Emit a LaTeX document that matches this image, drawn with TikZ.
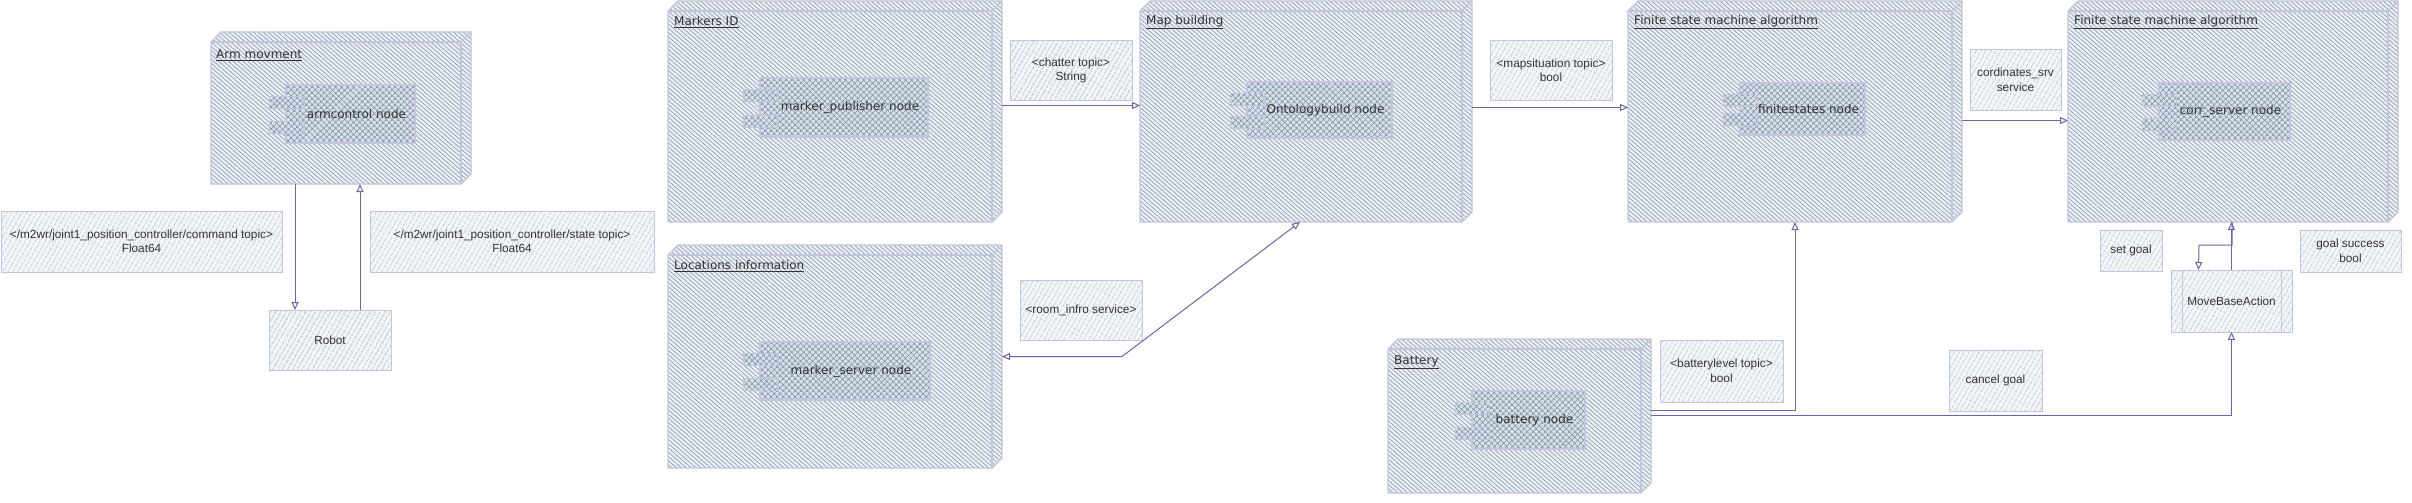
\documentclass[tikz,border=0pt]{standalone}
\usepackage{fontspec}
\setmainfont{DejaVu Sans}
\newfontfamily\lblfont{Liberation Sans}
\usetikzlibrary{patterns.meta,calc,arrows.meta}
\definecolor{boxbg}{HTML}{EDF0F4}
\definecolor{hatchc}{HTML}{95A6B9}
\definecolor{bordc}{HTML}{C3C5DC}
\definecolor{compbg}{HTML}{D6DEE6}
\definecolor{comph}{HTML}{8497AC}
\definecolor{lblbg}{HTML}{F3F5F8}
\definecolor{lblh}{HTML}{9DAABA}
\definecolor{arrc}{HTML}{6A65A8}
\definecolor{txtc}{HTML}{333333}
\tikzset{
  boxanchor/.style={rectangle, inner sep=0pt, outer sep=0pt, draw=none},
  bigbox/.style={draw=bordc, line width=1.3pt, line join=round, preaction={fill=boxbg},
    pattern={Lines[angle=-41,distance=3.2pt,line width=0.8pt]}, pattern color=hatchc},
  boxline/.style={draw=bordc, line width=1.3pt},
  comp/.style={rectangle, inner sep=0pt, outer sep=0pt, draw=bordc, line width=1.1pt,
    preaction={fill=compbg}, pattern={Hatch[angle=45,distance=4pt,line width=0.7pt]},
    pattern color=comph, text=txtc, font=\fontsize{12}{14}\selectfont},
  tabst/.style={draw=bordc, line width=1pt, preaction={fill=compbg},
    pattern={Hatch[angle=45,distance=4pt,line width=0.7pt]}, pattern color=comph},
  lbl/.style={rectangle, inner sep=0pt, outer sep=0pt, draw=bordc, line width=1pt,
    preaction={fill=lblbg}, pattern={Lines[angle=60,distance=4pt,line width=0.8pt]},
    pattern color=lblh, text=txtc, align=center, font=\lblfont\fontsize{11.8}{14.5}\selectfont},
  title/.style={anchor=west, inner sep=0pt, text=txtc, font=\fontsize{12}{14}\selectfont},
  arr/.style={draw=arrc, line width=1pt, -{Triangle[open,length=8pt,width=7pt]}},
  arrb/.style={draw=arrc, line width=1pt, {Triangle[open,length=8pt,width=7pt]}-{Triangle[open,length=8pt,width=7pt]}}
}
\newcommand\BoxShape[1]{%
  \path[bigbox] ($(#1.north west)+(0,10)$) -- ($(#1.north west)+(10,0)$) -- (#1.north east)
    -- ($(#1.south east)+(0,-10)$) -- ($(#1.south east)+(-10,0)$) -- (#1.south west) -- cycle;
  \draw[boxline] ($(#1.north west)+(0,10)$) -- ($(#1.north east)+(-10,10)$) -- ($(#1.south east)+(-10,0)$);
  \draw[boxline] ($(#1.north east)+(-10,10)$) -- (#1.north east);}
\newcommand\Tabs[1]{%
  \path[tabst] ($(#1.north west)+(-17,11)$) rectangle ++(34,12);
  \path[tabst] ($(#1.south west)+(-17,-22)$) rectangle ++(34,12);}
\begin{document}
\begin{tikzpicture}[x=1pt,y=-1pt]
\fill[white] (0,0) rectangle (2412,503);
\useasboundingbox (0,0) rectangle (2412,503);

% ---------- big boxes ----------
\node[boxanchor, minimum width=260pt, minimum height=152pt, anchor=north west] (arm) at (211,32) {};
\BoxShape{arm}
\node[title] (armt) at (216,55) {\underline{Arm movment}};

\node[boxanchor, minimum width=334pt, minimum height=221pt, anchor=north west] (mk) at (668,1) {};
\BoxShape{mk}
\node[title] (mkt) at (674,22) {\underline{Markers ID}};

\node[boxanchor, minimum width=334pt, minimum height=223pt, anchor=north west] (loc) at (668,245) {};
\BoxShape{loc}
\node[title] (loct) at (674,266) {\underline{Locations information}};

\node[boxanchor, minimum width=332pt, minimum height=221pt, anchor=north west] (mb) at (1140,1) {};
\BoxShape{mb}
\node[title] (mbt) at (1146,22) {\underline{Map building}};

\node[boxanchor, minimum width=334pt, minimum height=221pt, anchor=north west] (fa) at (1628,1) {};
\BoxShape{fa}
\node[title] (fat) at (1634,22) {\underline{Finite state machine algorithm}};

\node[boxanchor, minimum width=330pt, minimum height=221pt, anchor=north west] (fb) at (2068,1) {};
\BoxShape{fb}
\node[title] (fbt) at (2074,22) {\underline{Finite state machine algorithm}};

\node[boxanchor, minimum width=263pt, minimum height=154pt, anchor=north west] (bat) at (1388,339) {};
\BoxShape{bat}
\node[title] (batt) at (1394,362) {\underline{Battery}};

% ---------- components ----------
\node[comp, minimum width=129pt, minimum height=58pt, anchor=north west] (ac) at (286,85) {\hspace*{12pt}armcontrol node};
\Tabs{ac}
\node[comp, minimum width=168pt, minimum height=59pt, anchor=north west] (mp) at (760,78) {\hspace*{12pt}marker\_publisher node};
\Tabs{mp}
\node[comp, minimum width=170pt, minimum height=58pt, anchor=north west] (ms) at (760,342) {\hspace*{12pt}marker\_server node};
\Tabs{ms}
\node[comp, minimum width=145pt, minimum height=56pt, anchor=north west] (ob) at (1247,82) {\hspace*{12pt}Ontologybuild node};
\Tabs{ob}
\node[comp, minimum width=125pt, minimum height=52pt, anchor=north west] (fs) at (1740,83) {\hspace*{12pt}finitestates node};
\Tabs{fs}
\node[comp, minimum width=131pt, minimum height=57pt, anchor=north west] (cs) at (2159,83) {\hspace*{12pt}corr\_server node};
\Tabs{cs}
\node[comp, minimum width=113pt, minimum height=58pt, anchor=north west] (bn) at (1472,391) {\hspace*{12pt}battery node};
\Tabs{bn}

% ---------- labels ----------
\node[lbl, minimum width=281pt, minimum height=61pt, anchor=north west] (lcmd) at (1,211) {</m2wr/joint1\_position\_controller/command topic>\\Float64};
\node[lbl, minimum width=284pt, minimum height=61pt, anchor=north west] (lst) at (370,211) {</m2wr/joint1\_position\_controller/state topic>\\Float64};
\node[lbl, minimum width=122pt, minimum height=60pt, anchor=north west] (rb) at (269,310) {Robot};
\node[lbl, minimum width=122pt, minimum height=59pt, anchor=north west] (lch) at (1010,41) {<chatter topic>\\String};
\node[lbl, minimum width=122pt, minimum height=59pt, anchor=north west] (lmap) at (1490,41) {<mapsituation topic>\\bool};
\node[lbl, minimum width=122pt, minimum height=60pt, anchor=north west] (lroom) at (1020,280) {<room\_infro service>};
\node[lbl, minimum width=91pt, minimum height=60pt, anchor=north west] (lcor) at (1970,50) {cordinates\_srv\\service};
\node[lbl, minimum width=123pt, minimum height=62pt, anchor=north west] (lbat) at (1660,340) {<batterylevel topic>\\bool};
\node[lbl, minimum width=93pt, minimum height=61pt, anchor=north west] (lcan) at (1949,350) {cancel goal};
\node[lbl, minimum width=121pt, minimum height=62pt, anchor=north west] (mba) at (2171,270) {MoveBaseAction};
\draw[draw=bordc, line width=1pt] ([xshift=11pt]mba.north west) -- ([xshift=11pt]mba.south west);
\draw[draw=bordc, line width=1pt] ([xshift=-11pt]mba.north east) -- ([xshift=-11pt]mba.south east);
\node[lbl, minimum width=62pt, minimum height=41pt, anchor=north west] (lset) at (2100,230) {set goal};
\node[lbl, minimum width=101pt, minimum height=42pt, anchor=north west] (lgs) at (2300,230) {goal success\\bool};

% ---------- connectors ----------
\draw[arr] ([xshift=-46pt]arm.south) -- ([xshift=-46pt]arm.south |- rb.north);
\draw[arr] ([xshift=30pt]rb.north) -- ([xshift=30pt]rb.north |- arm.south);
\draw[arr] ([yshift=6pt]mk.east) -- ([yshift=6pt]mk.east -| mb.west);
\draw[arr] ([yshift=4pt]mb.east) -- ([yshift=4pt]mb.east -| fa.west);
\draw[arr] ([yshift=-9pt]fa.east) -- ([yshift=-9pt]fa.east -| fb.west);
\draw[arrb] (loc.east) -- ++(120,0) -- ([xshift=-6pt]mb.south);
\draw[arr] ([yshift=6pt]bat.east) -| (fa.south);
\draw[arr] ([yshift=1pt]bat.east) -| (mba.south);
\draw[arr] (mba.north) -- (mba.north |- fb.south);
\draw[arr] ([xshift=-1pt]fb.south) -- ++(0,23) -- ++(-33,0) -- ([xshift=-33pt]mba.north);
\end{tikzpicture}
\end{document}
